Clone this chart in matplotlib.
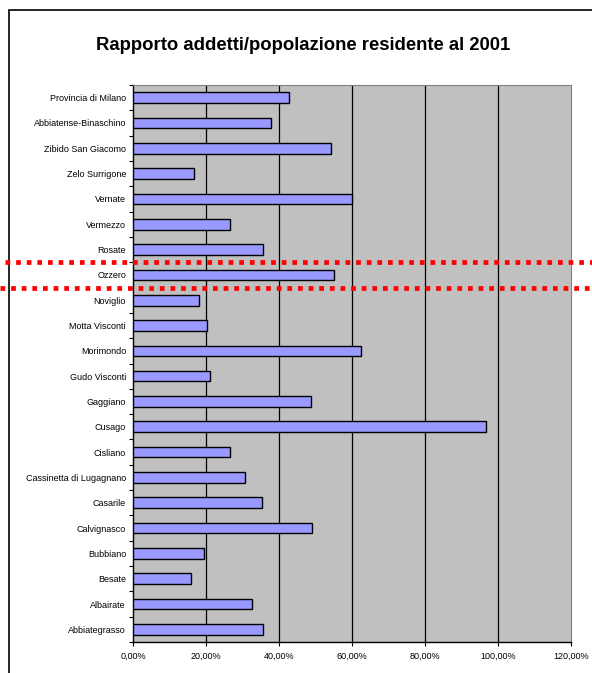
import matplotlib.pyplot as plt
import matplotlib.patches as patches
import matplotlib.transforms as transforms
from matplotlib.lines import Line2D
import numpy as np

plt.rcParams["font.family"] = ["Liberation Sans", "DejaVu Sans"]

# top to bottom as in the chart
comuni = [
    "Provincia di Milano", "Abbiatense-Binaschino", "Zibido San Giacomo",
    "Zelo Surrigone", "Vernate", "Vermezzo", "Rosate", "Ozzero", "Noviglio",
    "Motta Visconti", "Morimondo", "Gudo Visconti", "Gaggiano", "Cusago",
    "Cisliano", "Cassinetta di Lugagnano", "Casarile", "Calvignasco",
    "Bubbiano", "Besate", "Albairate", "Abbiategrasso",
]
rapporto = [
    42.7, 37.9, 54.3, 16.8, 60.0, 26.6, 35.7, 55.0, 18.0, 20.2, 62.6,
    21.1, 48.7, 96.7, 26.6, 30.6, 35.4, 49.0, 19.4, 15.8, 32.7, 35.7,
]
xticks = [0, 20, 40, 60, 80, 100, 120]
xtick_labels = ["0,00%", "20,00%", "40,00%", "60,00%", "80,00%", "100,00%", "120,00%"]
evidenziato = "Ozzero"

fig = plt.figure(figsize=(5.92, 6.73), dpi=100)
ax = fig.add_axes([133 / 592, 1 - 642 / 673, 438 / 592, 557 / 673])

# chart frame (runs off the right and bottom edges)
fig.add_artist(patches.Rectangle((9 / 592, -0.1), 1.2, 1 - 10 / 673 + 0.1,
                                 transform=fig.transFigure, fill=False,
                                 edgecolor="black", linewidth=1.2))

ax.set_facecolor("#C0C0C0")
y = np.arange(len(comuni))
ax.barh(y, rapporto, height=0.42, color="#9999FF", edgecolor="black",
        linewidth=1.0, zorder=3)

for xv in xticks[1:-1]:
    ax.axvline(xv, color="black", linewidth=0.9, zorder=1)

ax.set_xlim(0, 120)
ax.set_ylim(len(comuni) - 0.5, -0.5)

ax.set_xticks(xticks)
ax.set_xticklabels(xtick_labels, fontsize=6.5)
ax.set_yticks(y)
ax.set_yticklabels(comuni, fontsize=6.5)
ax.set_yticks(np.arange(len(comuni) + 1) - 0.5, minor=True)
ax.tick_params(axis="y", which="major", length=0, pad=5)
ax.tick_params(axis="y", which="minor", length=3, direction="out", width=0.8)
ax.tick_params(axis="x", length=3, direction="out", width=0.8, pad=4)

for side in ["top", "right"]:
    ax.spines[side].set_color("#808080")
    ax.spines[side].set_linewidth(0.8)
for side in ["left", "bottom"]:
    ax.spines[side].set_color("black")
    ax.spines[side].set_linewidth(1.0)

fig.text(303 / 592, 1 - 46 / 673, "Rapporto addetti/popolazione residente al 2001",
         ha="center", va="center", fontsize=13.3, fontweight="bold")

# red dotted lines around the highlighted row
i = comuni.index(evidenziato)
trans = transforms.blended_transform_factory(fig.transFigure, ax.transData)
for yv, x0 in [(i - 0.5, 0.008), (i + 0.5, 0.0)]:
    fig.add_artist(Line2D([x0, 1.0], [yv, yv], transform=trans, color="#FF0000",
                          linewidth=3.4, linestyle=(0, (1, 1.25)),
                          dash_capstyle="butt", zorder=10))

fig.savefig("out.png", dpi=100)
